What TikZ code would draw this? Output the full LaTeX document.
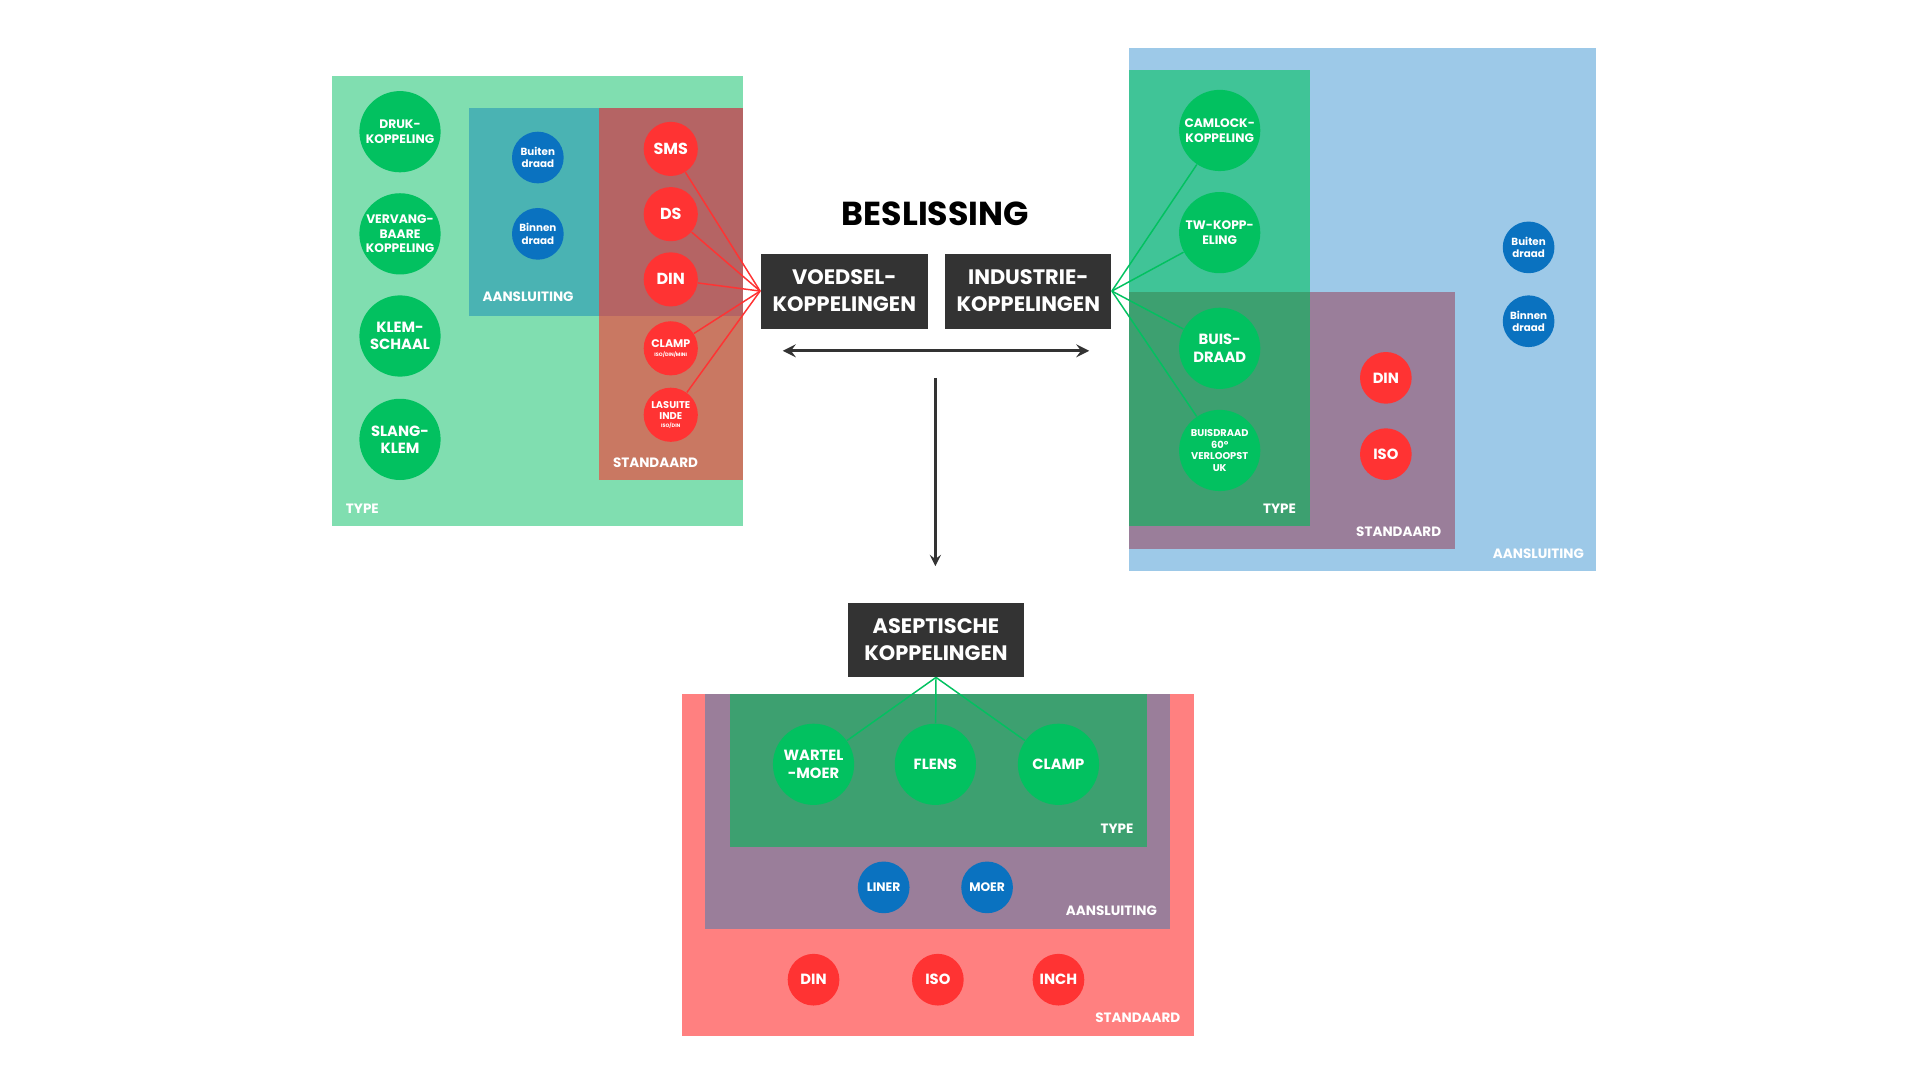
\documentclass[tikz,border=0pt]{standalone}
\usepackage{fontspec}
\setmainfont{Poppins}
\definecolor{kgreen}{HTML}{02C160}
\definecolor{kblue}{HTML}{0A72C0}
\definecolor{kred}{HTML}{FF3333}
\definecolor{kdark}{HTML}{333333}
\tikzset{
  bol/.style={circle, inner sep=0pt, text=white, align=center, font=\bfseries\fontsize{5}{6}\selectfont},
  grbol/.style={bol, fill=kgreen, minimum size=33pt},
  blbol/.style={bol, fill=kblue, minimum size=21pt, font=\bfseries\fontsize{4.2}{5}\selectfont},
  rdbol/.style={bol, fill=kred, minimum size=22pt, font=\bfseries\fontsize{5.5}{6}\selectfont},
  keuze/.style={fill=kdark, text=white, align=center, font=\bfseries\fontsize{8.5}{11}\selectfont},
  vlak/.style={text=white, font=\bfseries\fontsize{5.5}{6}\selectfont}
}
\begin{document}
\begin{tikzpicture}[x=0.5pt, y=-0.5pt]
  \useasboundingbox (0,0) rectangle (1560,877.5);

  % links: voedsel
  \fill[fill={rgb,255:red,128;green,222;blue,176}] (270,62) rectangle (604,427);
  \fill[fill={rgb,255:red,74;green,179;blue,179}] (381,88) rectangle (487,257);
  \fill[fill={rgb,255:red,181;green,100;blue,100}] (487,88) rectangle (604,257);
  \fill[fill={rgb,255:red,201;green,120;blue,98}] (487,257) rectangle (604,390);
  \node[vlak, anchor=south west] at (274,424) {TYPE};
  \node[vlak, anchor=south west] at (385,252) {AANSLUITING};
  \node[vlak, anchor=south west] at (491,387) {STANDAARD};

  % rechts: industrie
  \fill[fill={rgb,255:red,157;green,201;blue,232}] (917,39) rectangle (1297,464);
  \fill[fill={rgb,255:red,154;green,126;blue,154}] (917,237) rectangle (1182,446);
  \fill[fill={rgb,255:red,64;green,196;blue,151}] (917,57) rectangle (1064,237);
  \fill[fill={rgb,255:red,61;green,160;blue,112}] (917,237) rectangle (1064,427);
  \node[vlak, anchor=south east] at (1060,424) {TYPE};
  \node[vlak, anchor=south east] at (1178,443) {STANDAARD};
  \node[vlak, anchor=south east] at (1294,461) {AANSLUITING};

  % onder: aseptisch
  \fill[fill={rgb,255:red,255;green,128;blue,128}] (554,564) rectangle (970,842);
  \fill[fill={rgb,255:red,154;green,126;blue,154}] (573,564) rectangle (951,755);
  \fill[fill={rgb,255:red,61;green,160;blue,112}] (593,564) rectangle (932,688);
  \node[vlak, anchor=south east] at (928,684) {TYPE};
  \node[vlak, anchor=south east] at (947,751) {AANSLUITING};
  \node[vlak, anchor=south east] at (966,838) {STANDAARD};

  % keuzes
  \node[font=\bfseries\fontsize{13.5}{16}\selectfont] (besl) at (760,174) {BESLISSING};
  \node[keuze, minimum width=68pt, minimum height=30.5pt] (voed) at (686,236.5) {VOEDSEL-\\KOPPELINGEN};
  \node[keuze, minimum width=67.5pt, minimum height=30.5pt] (indu) at (835.5,236.5) {INDUSTRIE-\\KOPPELINGEN};
  \node[keuze, minimum width=71.5pt, minimum height=30pt] (asep) at (760.5,520) {ASEPTISCHE\\KOPPELINGEN};
  \coordinate (pl) at (636,285);
  \coordinate (pr) at (885,285);
  \coordinate (pt) at (760,307);
  \coordinate (pb) at (760,460);
  \draw[kdark, line width=1.3pt, <->, >=stealth] (pl) -- (pr);
  \draw[kdark, line width=1pt, ->, >=stealth] (pt) -- (pb);

  % voedsel bollen
  \node[grbol] (druk) at (325,107) {DRUK-\\KOPPELING};
  \node[grbol] (verv) at (325,190) {VERVANG-\\BAARE\\KOPPELING};
  \node[grbol, font=\bfseries\fontsize{6}{7}\selectfont] (klem) at (325,273) {KLEM-\\SCHAAL};
  \node[grbol, font=\bfseries\fontsize{6}{7}\selectfont] (slang) at (325,357) {SLANG-\\KLEM};
  \node[blbol] (vbui) at (437,128) {Buiten\\draad};
  \node[blbol] (vbin) at (437,190) {Binnen\\draad};
  \node[rdbol, font=\bfseries\fontsize{6.5}{7}\selectfont] (sms) at (545,121) {SMS};
  \node[rdbol, font=\bfseries\fontsize{6.5}{7}\selectfont] (ds) at (545,174) {DS};
  \node[rdbol, font=\bfseries\fontsize{6.5}{7}\selectfont] (vdin) at (545,227) {DIN};
  \node[rdbol, font=\bfseries\fontsize{4.5}{5}\selectfont] (clamp) at (545,283) {CLAMP\\[-1.5pt]{\fontsize{2}{2}\selectfont ISO/DIN/MINI}};
  \node[rdbol, font=\bfseries\fontsize{4}{4.6}\selectfont] (lasu) at (545,337) {LASUITE\\INDE\\[-1.5pt]{\fontsize{2}{2}\selectfont ISO/DIN}};
  \foreach \n in {sms,ds,vdin,clamp,lasu}
    \draw[kred, line width=0.6pt] (voed.west) -- (\n);

  % industrie bollen
  \node[grbol] (caml) at (991,106) {CAMLOCK-\\KOPPELING};
  \node[grbol] (tw) at (991,189) {TW-KOPP-\\ELING};
  \node[grbol, font=\bfseries\fontsize{6}{7}\selectfont] (buis) at (991,283) {BUIS-\\DRAAD};
  \node[grbol, font=\bfseries\fontsize{4}{4.8}\selectfont] (buis60) at (991,366) {BUISDRAAD\\60°\\VERLOOPST\\UK};
  \node[rdbol, minimum size=21pt, font=\bfseries\fontsize{6}{7}\selectfont] (idin) at (1126,307) {DIN};
  \node[rdbol, minimum size=21pt, font=\bfseries\fontsize{6}{7}\selectfont] (iiso) at (1126,369) {ISO};
  \node[blbol] (ibui) at (1242,201) {Buiten\\draad};
  \node[blbol] (ibin) at (1242,261) {Binnen\\draad};
  \foreach \n in {caml,tw,buis,buis60}
    \draw[kgreen, line width=0.6pt] (indu.east) -- (\n);

  % aseptische bollen
  \node[grbol, font=\bfseries\fontsize{6}{7}\selectfont] (wart) at (661,621) {WARTEL\\-MOER};
  \node[grbol, font=\bfseries\fontsize{6}{7}\selectfont] (flens) at (760,621) {FLENS};
  \node[grbol, font=\bfseries\fontsize{6}{7}\selectfont] (aclamp) at (860,621) {CLAMP};
  \node[blbol, font=\bfseries\fontsize{5}{6}\selectfont] (liner) at (718,721) {LINER};
  \node[blbol, font=\bfseries\fontsize{5}{6}\selectfont] (moer) at (802,721) {MOER};
  \node[rdbol, minimum size=21pt, font=\bfseries\fontsize{6}{7}\selectfont] (adin) at (661,796) {DIN};
  \node[rdbol, minimum size=21pt, font=\bfseries\fontsize{6}{7}\selectfont] (aiso) at (762,796) {ISO};
  \node[rdbol, minimum size=21pt, font=\bfseries\fontsize{6}{7}\selectfont] (inch) at (860,796) {INCH};
  \foreach \n in {wart,flens,aclamp}
    \draw[kgreen, line width=0.6pt] (asep.south) -- (\n);
\end{tikzpicture}
\end{document}
